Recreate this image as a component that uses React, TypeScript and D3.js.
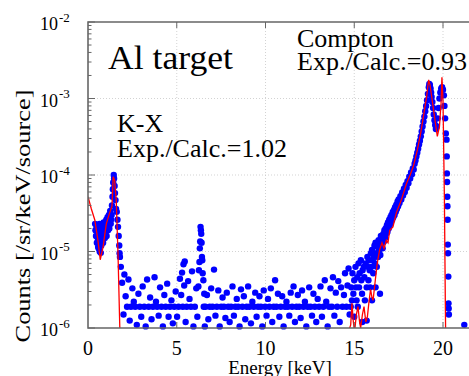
import * as d3 from "d3";
import React, { useEffect, useRef } from "react";

type Pt = [number, number];

const xTicks = [0, 5, 10, 15, 20];
const yTicks = [1e-6, 1e-5, 1e-4, 1e-3, 1e-2];
const yTickExp = ["-6", "-5", "-4", "-3", "-2"];

// measured points, K-X region (keV, counts)
const kxData: Pt[] = [
  [0.4, 2.3e-5], [0.42, 1.9e-5], [0.45, 1.6e-5], [0.48, 2.1e-5], [0.5, 1.3e-5], [0.52, 2.2e-5],
  [0.55, 1.5e-5], [0.57, 1.15e-5], [0.58, 2.0e-5], [0.6, 1.1e-5], [0.62, 1.7e-5], [0.65, 2.3e-5],
  [0.66, 1.0e-5], [0.68, 1.4e-5], [0.72, 9.6e-6], [0.72, 1.8e-5], [0.75, 1.2e-5], [0.78, 2.1e-5],
  [0.8, 1.5e-5], [0.83, 1.9e-5], [0.85, 1.3e-5], [0.88, 2.4e-5], [0.9, 1.7e-5], [0.93, 2.0e-5],
  [0.95, 1.5e-5], [0.98, 2.2e-5], [1.0, 1.8e-5], [1.03, 2.6e-5], [1.05, 1.6e-5], [1.08, 2.1e-5],
  [1.1, 2.8e-5], [1.13, 1.9e-5], [1.13, 2.5e-5], [1.15, 2.2e-5], [1.18, 3.0e-5], [1.2, 2.0e-5],
  [1.22, 2.8e-5], [1.25, 3.4e-5], [1.28, 2.3e-5], [1.3, 2.6e-5], [1.33, 3.0e-5], [1.35, 4.0e-5],
  [1.38, 5.2e-5], [1.4, 6.5e-5], [1.42, 8.0e-5], [1.45, 1.0e-4], [1.47, 9.0e-5], [1.5, 7.2e-5],
  [1.52, 5.8e-5], [1.55, 4.7e-5], [1.58, 3.6e-5], [1.62, 3.3e-5], [1.66, 2.6e-5], [1.69, 2.1e-5],
  [1.73, 1.6e-5], [1.76, 1.2e-5], [1.78, 9.5e-6], [1.8, 8.5e-6]
];

// measured points, flat background 1.8 - 14.8 keV
const bgData: Pt[] = [
  [1.85, 6.3e-6], [1.92, 3.9e-6], [2.0, 1.5e-6], [2.05, 5.0e-6], [2.12, 2.6e-6], [2.2, 1.9e-6],
  [2.28, 4.3e-6], [2.35, 1.25e-6], [2.42, 1.9e-6], [2.5, 3.3e-6], [2.58, 2.2e-6], [2.66, 1.9e-6],
  [2.75, 1.1e-6], [2.84, 2.8e-6], [2.92, 1.9e-6], [3.0, 1.4e-6], [3.08, 3.5e-6], [3.17, 1.9e-6],
  [3.25, 1.05e-6], [3.33, 4.3e-6], [3.42, 1.9e-6], [3.5, 2.5e-6], [3.58, 1.3e-6], [3.66, 1.9e-6],
  [3.75, 4.6e-6], [3.83, 2.2e-6], [3.9, 1.9e-6], [3.98, 1.45e-6], [4.06, 3.4e-6], [4.14, 1.9e-6],
  [4.22, 1.05e-6], [4.3, 2.7e-6], [4.38, 1.9e-6], [4.46, 3.8e-6], [4.54, 1.4e-6], [4.62, 1.9e-6],
  [4.7, 2.3e-6], [4.78, 1.15e-6], [4.86, 1.9e-6], [4.94, 3.0e-6], [5.02, 1.4e-6], [5.1, 1.9e-6],
  [5.18, 4.4e-6], [5.25, 2.7e-6], [5.3, 5.3e-6], [5.34, 1.9e-6], [5.38, 6.8e-6], [5.42, 3.6e-6],
  [5.45, 7.4e-6], [5.5, 1.2e-6], [5.56, 1.9e-6], [5.64, 4.1e-6], [5.72, 2.4e-6], [5.8, 1.9e-6],
  [5.86, 5.5e-6], [5.94, 1.05e-6], [6.02, 1.9e-6], [6.1, 3.3e-6], [6.16, 1.4e-6],
  [6.62, 1.9e-6], [6.7, 2.7e-6], [6.78, 1.3e-6], [6.86, 1.9e-6], [6.94, 3.3e-6], [7.02, 1.9e-6],
  [7.1, 5.8e-6], [7.18, 1.45e-6], [7.26, 1.9e-6], [7.34, 3.1e-6], [7.42, 1.05e-6], [7.5, 1.9e-6],
  [7.58, 2.5e-6], [7.66, 1.9e-6], [7.74, 1.35e-6], [7.82, 2.9e-6], [7.9, 1.9e-6], [7.98, 1.2e-6],
  [8.06, 1.9e-6], [8.14, 3.5e-6], [8.22, 1.45e-6], [8.3, 1.9e-6], [8.38, 2.4e-6], [8.46, 1.9e-6],
  [8.54, 1.05e-6], [8.62, 3.2e-6], [8.7, 1.9e-6], [8.78, 2.6e-6], [8.86, 1.3e-6], [8.94, 1.9e-6],
  [9.02, 3.5e-6], [9.1, 1.9e-6], [9.18, 1.15e-6], [9.26, 2.2e-6], [9.34, 1.9e-6], [9.42, 2.9e-6],
  [9.5, 1.4e-6], [9.58, 1.9e-6], [9.66, 2.6e-6], [9.74, 1.9e-6], [9.82, 1.05e-6], [9.9, 3.1e-6],
  [9.98, 1.9e-6], [10.06, 1.45e-6], [10.14, 2.4e-6], [10.22, 1.9e-6], [10.3, 3.3e-6], [10.38, 1.2e-6],
  [10.46, 1.9e-6], [10.54, 4.2e-6], [10.62, 1.9e-6], [10.7, 2.8e-6], [10.78, 1.4e-6], [10.86, 1.9e-6],
  [10.94, 2.6e-6], [11.02, 1.05e-6], [11.1, 1.9e-6], [11.18, 2.2e-6], [11.26, 1.9e-6], [11.34, 1.45e-6],
  [11.42, 2.9e-6], [11.5, 1.9e-6], [11.58, 3.5e-6], [11.66, 1.2e-6], [11.74, 1.9e-6], [11.82, 2.7e-6],
  [11.9, 1.9e-6], [11.98, 1.35e-6], [12.06, 3.1e-6], [12.14, 1.9e-6], [12.22, 2.2e-6], [12.3, 1.05e-6],
  [12.38, 1.9e-6], [12.46, 3.4e-6], [12.54, 1.9e-6], [12.62, 1.45e-6], [12.7, 2.8e-6], [12.78, 1.9e-6],
  [12.86, 1.2e-6], [12.94, 2.4e-6], [13.02, 1.9e-6], [13.1, 3.5e-6], [13.18, 1.4e-6], [13.26, 1.9e-6],
  [13.34, 4.2e-6], [13.42, 2.2e-6], [13.5, 1.05e-6], [13.58, 1.9e-6], [13.66, 3.3e-6], [13.74, 1.9e-6],
  [13.8, 4.6e-6], [13.88, 1.45e-6], [13.96, 2.9e-6], [14.04, 1.9e-6], [14.1, 4.1e-6], [14.18, 1.2e-6],
  [14.26, 3.4e-6], [14.34, 1.9e-6], [14.42, 2.7e-6], [14.48, 5.2e-6], [14.56, 1.9e-6], [14.62, 3.6e-6],
  [14.68, 6.0e-6], [14.74, 1.5e-6]
];

// measured points, 6.4 keV line
const feData: Pt[] = [
  [6.22, 3.5e-6], [6.25, 5.7e-6], [6.28, 7.3e-6], [6.3, 1.1e-5], [6.32, 1.35e-5], [6.34, 2.1e-5],
  [6.36, 1.9e-5], [6.38, 1.7e-5], [6.4, 1.3e-5], [6.42, 8.5e-6], [6.44, 7.7e-6], [6.46, 5.2e-6],
  [6.5, 4.2e-6], [6.52, 1.9e-6], [6.55, 2.8e-6], [6.58, 1.05e-6]
];

// measured points, Compton region
const comptonData: Pt[] = [
  [14.8, 1.9e-6], [14.83, 3.4e-6], [14.87, 2.3e-6], [14.9, 5.2e-6], [14.95, 2.8e-6], [15.0, 4.2e-6],
  [15.0, 1.4e-6], [15.07, 6.3e-6], [15.1, 3.4e-6], [15.13, 2.3e-6], [15.17, 4.6e-6],
  [15.2, 1.9e-6], [15.24, 7.0e-6], [15.27, 3.4e-6], [15.3, 5.2e-6],
  [15.37, 7.7e-6], [15.4, 4.2e-6], [15.44, 2.8e-6], [15.45, 1.2e-6], [15.47, 5.7e-6],
  [15.54, 6.3e-6], [15.57, 4.6e-6], [15.6, 2.3e-6], [15.64, 7.0e-6], [15.7, 3.4e-6],
  [15.7, 1.25e-6], [15.74, 8.5e-6], [15.77, 6.3e-6], [15.8, 4.2e-6], [15.84, 7.7e-6], [15.87, 5.7e-6],
  [15.9, 3.4e-6], [15.94, 9.5e-6], [15.97, 6.3e-6], [16.0, 1.05e-5], [16.0, 2.3e-6], [16.04, 7.7e-6],
  [16.07, 5.2e-6], [16.1, 8.5e-6], [16.14, 1.2e-5], [16.17, 7.0e-6], [16.2, 1.3e-5], [16.2, 3.4e-6],
  [16.24, 9.5e-6], [16.27, 6.3e-6], [16.3, 1.15e-5], [16.34, 8.5e-6], [16.37, 1.4e-5], [16.4, 1.05e-5],
  [16.44, 1.3e-5], [16.45, 2.8e-6], [16.47, 9.0e-6], [16.5, 1.6e-5], [16.54, 1.25e-5], [16.57, 1.5e-5],
  [16.6, 1.1e-5], [16.64, 1.7e-5], [16.67, 1.35e-5], [16.7, 1.9e-5], [16.74, 1.5e-5], [16.77, 2.0e-5],
  [16.8, 1.7e-5], [16.84, 2.2e-5], [16.87, 1.8e-5], [16.9, 2.4e-5], [16.94, 2.0e-5], [16.97, 2.6e-5],
  [17.0, 2.2e-5], [17.04, 2.8e-5], [17.07, 2.4e-5], [17.1, 3.0e-5], [17.14, 2.6e-5], [17.17, 3.3e-5],
  [17.2, 2.8e-5], [17.24, 3.5e-5], [17.27, 3.0e-5], [17.3, 3.8e-5], [17.34, 3.3e-5], [17.37, 4.1e-5],
  [17.4, 3.6e-5], [17.44, 4.5e-5], [17.47, 3.9e-5], [17.5, 4.8e-5], [17.55, 4.3e-5], [17.6, 5.3e-5],
  [17.65, 4.8e-5], [17.7, 5.9e-5], [17.75, 5.4e-5], [17.8, 6.6e-5], [17.85, 6.0e-5], [17.9, 7.4e-5],
  [17.95, 6.8e-5], [18.0, 8.3e-5], [18.05, 7.8e-5], [18.1, 9.5e-5], [18.15, 9.0e-5], [18.2, 1.08e-4],
  [18.25, 1.02e-4], [18.3, 1.22e-4], [18.35, 1.18e-4], [18.4, 1.4e-4], [18.45, 1.55e-4], [18.5, 1.75e-4],
  [18.55, 1.95e-4], [18.6, 2.2e-4], [18.65, 2.5e-4], [18.7, 2.8e-4], [18.75, 3.2e-4], [18.8, 3.7e-4],
  [18.85, 4.3e-4], [18.9, 5.0e-4], [18.95, 5.8e-4], [19.0, 6.8e-4], [19.05, 8.0e-4], [19.1, 9.5e-4],
  [19.15, 1.15e-3], [19.2, 1.4e-3], [19.23, 1.55e-3], [19.26, 1.5e-3], [19.3, 1.35e-3], [19.33, 1.2e-3],
  [19.36, 1.05e-3], [19.4, 9.0e-4], [19.44, 7.5e-4], [19.48, 6.2e-4], [19.52, 5.2e-4], [19.56, 4.5e-4],
  [19.6, 4.0e-4], [19.65, 4.3e-4], [19.7, 5.5e-4], [19.75, 7.5e-4], [19.8, 1.0e-3], [19.85, 1.2e-3],
  [19.9, 1.35e-3], [19.95, 1.4e-3], [20.0, 1.3e-3], [20.05, 1.1e-3], [20.08, 8.0e-4], [20.12, 5.5e-4],
  [20.16, 3.5e-4], [20.2, 2.9e-4], [20.21, 1.75e-4], [20.22, 1.05e-4], [20.23, 8.1e-5], [20.24, 5.2e-5],
  [20.25, 3.9e-5], [20.26, 2.6e-5], [20.27, 1.23e-5], [20.28, 9.5e-6], [20.3, 4.7e-6], [20.31, 2.1e-6],
  [20.32, 1.8e-6], [20.33, 1.5e-6], [21.2, 1.1e-6]
];

// calculation (red line)
const calcCurve: Pt[] = [
  [0, 5.2e-5], [0.19, 3.6e-5], [0.38, 2.6e-5], [0.56, 1.4e-5], [0.69, 7.8e-6], [0.85, 1.15e-5],
  [1.03, 2.3e-5], [1.22, 3.2e-5], [1.35, 3.9e-5], [1.42, 9.5e-5], [1.5, 8.5e-5], [1.59, 4.7e-5],
  [1.69, 9.5e-6], [1.79, 1.05e-6], [1.85, 5e-7], [14.68, 5e-7], [14.74, 1.0e-6], [14.8, 1.1e-6],
  [14.87, 2.1e-6], [14.95, 1.2e-6], [15.02, 9e-7], [15.12, 1.5e-6], [15.21, 1.9e-6], [15.3, 1.2e-6],
  [15.36, 1.0e-6], [15.46, 1.5e-6], [15.55, 1.9e-6], [15.65, 1.2e-6], [15.74, 1.4e-6], [15.83, 2.2e-6],
  [15.92, 3.2e-6], [16.0, 2.5e-6], [16.06, 2.3e-6], [16.19, 4.3e-6], [16.3, 7.1e-6], [16.43, 1.05e-5],
  [16.56, 1.3e-5], [16.68, 1.1e-5], [16.81, 1.4e-5], [16.9, 1.3e-5], [17.0, 1.9e-5], [17.18, 2.1e-5],
  [17.37, 3.2e-5], [17.65, 4.7e-5], [17.95, 7.8e-5], [18.15, 1.0e-4], [18.33, 1.3e-4], [18.55, 2.1e-4],
  [18.74, 3.5e-4], [18.93, 6.5e-4], [19.08, 1.07e-3], [19.19, 1.75e-3], [19.27, 1.5e-3], [19.36, 1.07e-3],
  [19.55, 5.2e-4], [19.68, 3.2e-4], [19.8, 4.3e-4], [19.89, 8.7e-4], [19.94, 1.9e-3], [20.0, 9.5e-4],
  [20.08, 4.7e-5], [20.13, 2.3e-6], [20.16, 5e-7]
];

const App: React.FC = () => {
  const ref = useRef<SVGSVGElement>(null);

  useEffect(() => {
    const width = 469;
    const height = 376;
    const left = 88;
    const top = 22;
    const bottom = 328;
    const font = "Liberation Serif, DejaVu Serif, Times New Roman, serif";

    const x = d3.scaleLinear().domain([0, 22]).range([left, 478.5]);
    const y = d3.scaleLog().domain([1e-6, 1e-2]).range([bottom, top]);

    const svg = d3.select(ref.current!);
    svg.selectAll("*").remove();
    svg.attr("width", width).attr("height", height).style("font-family", font);

    svg.append("rect").attr("width", width).attr("height", height).attr("fill", "#fff");

    svg.append("clipPath").attr("id", "plotclip")
      .append("rect")
      .attr("x", left).attr("y", top)
      .attr("width", width - left).attr("height", bottom - top);

    // grid
    const grid = svg.append("g")
      .attr("stroke", "#c8c8c8")
      .attr("stroke-width", 0.8)
      .attr("stroke-dasharray", "1,2");
    grid.selectAll("line.gy")
      .data(yTicks.slice(1, -1))
      .join("line")
      .attr("x1", left).attr("x2", width)
      .attr("y1", d => y(d)).attr("y2", d => y(d));
    grid.selectAll("line.gx")
      .data(xTicks.slice(1))
      .join("line")
      .attr("x1", d => x(d)).attr("x2", d => x(d))
      .attr("y1", top).attr("y2", bottom);

    // data points
    const allPts = [...kxData, ...bgData, ...feData, ...comptonData];
    svg.append("g")
      .attr("fill", "#0000ff")
      .selectAll("circle")
      .data(allPts)
      .join("circle")
      .attr("cx", d => x(d[0]))
      .attr("cy", d => y(d[1]))
      .attr("r", 3.2);

    // calculation
    const line = d3.line<Pt>().x(d => x(d[0])).y(d => y(d[1]));
    svg.append("path")
      .attr("clip-path", "url(#plotclip)")
      .attr("fill", "none")
      .attr("stroke", "#ff0000")
      .attr("stroke-width", 1.3)
      .attr("d", line(calcCurve));

    // frame
    const frame = svg.append("g").attr("stroke", "#666").attr("stroke-width", 1.6).attr("fill", "none");
    frame.append("path").attr("d", `M${width},${top}H${left}V${bottom}H${width}`);

    // ticks
    const ticks = svg.append("g").attr("stroke", "#666").attr("stroke-width", 1);
    const minor: number[] = [];
    yTicks.slice(0, -1).forEach(t => {
      for (let k = 2; k <= 9; k++) minor.push(t * k);
    });
    ticks.selectAll("line.minor")
      .data(minor)
      .join("line")
      .attr("x1", left).attr("x2", left + 3.5)
      .attr("y1", d => y(d)).attr("y2", d => y(d));
    ticks.selectAll("line.major")
      .data(yTicks)
      .join("line")
      .attr("x1", left).attr("x2", left + 7)
      .attr("y1", d => y(d)).attr("y2", d => y(d));
    ticks.selectAll("line.xt")
      .data(xTicks.slice(1))
      .join("line")
      .attr("x1", d => x(d)).attr("x2", d => x(d))
      .attr("y1", top).attr("y2", top + 6);
    ticks.selectAll("line.xb")
      .data(xTicks.slice(1))
      .join("line")
      .attr("x1", d => x(d)).attr("x2", d => x(d))
      .attr("y1", bottom).attr("y2", bottom - 6);

    // y tick labels
    const yl = svg.append("g").attr("fill", "#000");
    yl.selectAll("text.base")
      .data(yTicks)
      .join("text")
      .attr("x", 58).attr("y", d => y(d) + 8)
      .attr("text-anchor", "end")
      .attr("font-size", 18)
      .text("10");
    yl.selectAll("text.exp")
      .data(yTicks)
      .join("text")
      .attr("x", 59).attr("y", d => y(d) - 0.5)
      .attr("font-size", 13)
      .text((d, i) => yTickExp[i]);

    // x tick labels
    svg.append("g")
      .selectAll("text")
      .data(xTicks)
      .join("text")
      .attr("x", d => x(d)).attr("y", 355)
      .attr("text-anchor", "middle")
      .attr("font-size", 20)
      .text(d => String(d));

    // axis titles
    svg.append("text")
      .attr("x", 280).attr("y", 374)
      .attr("text-anchor", "middle")
      .attr("font-size", 19)
      .text("Energy [keV]");
    svg.append("text")
      .attr("transform", "translate(30,216) rotate(-90)")
      .attr("text-anchor", "middle")
      .attr("font-size", 21)
      .attr("textLength", 253)
      .attr("lengthAdjust", "spacingAndGlyphs")
      .text("Counts [/sr/keV/source]");

    // annotations
    svg.append("text")
      .attr("x", 108).attr("y", 69)
      .attr("font-size", 33)
      .attr("textLength", 125)
      .attr("lengthAdjust", "spacingAndGlyphs")
      .text("Al target");
    const ann = [
      { x: 117, y: 132, t: "K-X" },
      { x: 117, y: 157, t: "Exp./Calc.=1.02" },
      { x: 297, y: 47, t: "Compton" },
      { x: 297, y: 70, t: "Exp./Calc.=0.93" }
    ];
    svg.append("g")
      .selectAll("text")
      .data(ann)
      .join("text")
      .attr("x", d => d.x).attr("y", d => d.y)
      .attr("font-size", 26)
      .text(d => d.t);
  }, []);

  return <svg ref={ref} style={{ position: "absolute", left: 0, top: 0 }} />;
};

export default App;
